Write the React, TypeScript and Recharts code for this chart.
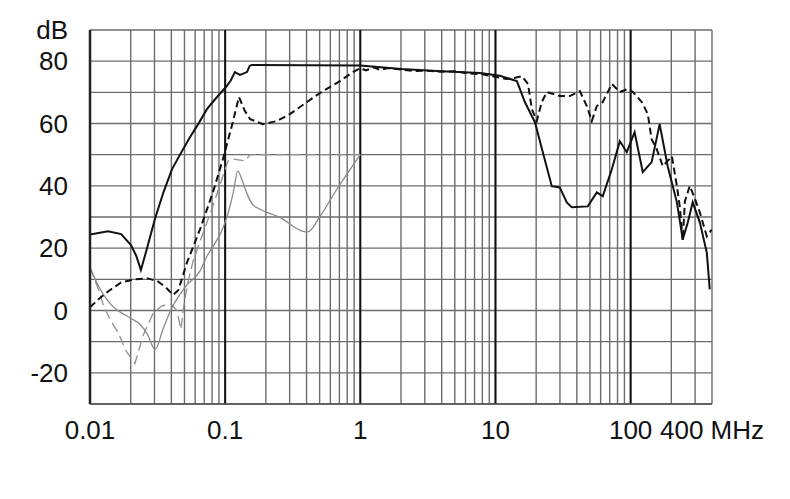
import React from 'react';
import { LineChart, Line, XAxis, YAxis, CartesianGrid, ReferenceLine } from 'recharts';

// frequency (MHz), level (dB)
const solidBlack: [number, number][] = [
  [0.01, 24.4], [0.0136, 25.4], [0.017, 24.5], [0.0201, 21], [0.022, 17.5], [0.0238, 13],
  [0.0259, 18.6], [0.0303, 29.5], [0.035, 38], [0.0404, 45.3], [0.047, 50.5], [0.0549, 55.6],
  [0.064, 60.2], [0.0733, 64.6], [0.087, 68.5], [0.1014, 71.7], [0.11, 73.8], [0.118, 76.5],
  [0.1287, 75.6], [0.145, 76.5], [0.152, 78.5], [0.158, 78.8], [1.0, 78.6], [2, 77.5],
  [4, 76.8], [7.7, 76.2], [10.8, 75.3], [14.4, 73.6], [16.5, 66.9], [19.6, 60.4], [22.4, 50.8],
  [26.1, 39.9], [29.9, 39.5], [33.7, 34.7], [36.7, 33.1], [48.2, 33.4], [56.2, 37.9],
  [62.2, 36.7], [72.6, 45.3], [83.2, 54.3], [93.7, 50.8], [107, 57.2], [123, 44.4],
  [143, 47.6], [164, 59.8], [188, 46.3], [220, 34.7], [243, 22.8], [265, 28.3], [288, 34.7],
  [325, 28.3], [366, 18.6], [385, 6.8],
];

const dashedBlack: [number, number][] = [
  [0.01, 1], [0.0115, 3.5], [0.0136, 6.1], [0.017, 9], [0.0215, 10], [0.0269, 10.3],
  [0.0318, 9.3], [0.0365, 7.4], [0.0411, 5], [0.045, 6.5], [0.0522, 15.4], [0.0651, 26],
  [0.0813, 38], [0.0963, 48.6], [0.112, 59.2], [0.1265, 68.5], [0.14, 64], [0.153, 61.4],
  [0.19, 59.8], [0.242, 60.8], [0.301, 63], [0.403, 66.9], [0.529, 70.4], [0.706, 73.6],
  [0.882, 76.5], [1.0, 77.8], [1.1, 77], [1.25, 78], [1.4, 77.2], [1.6, 77.8], [2, 77.3],
  [2.5, 76.8], [3, 77], [4, 76.6], [5, 76.8], [6, 76.2], [8, 75.8], [10, 75], [12, 74.3],
  [13.5, 74.5], [15.7, 75.2], [17.4, 72.7], [18.6, 64.6], [20.2, 60.8], [22, 66.9],
  [24, 70.1], [30, 68.8], [35.5, 68.8], [42.1, 70.4], [47.4, 65.6], [51.6, 60.8],
  [56.2, 65.6], [62.2, 66.9], [72.6, 72.7], [83.2, 70.1], [95.3, 71.1], [104, 70.1],
  [121, 66.9], [134, 63], [143, 55], [156, 51.8], [173, 46.3], [202, 49.5], [220, 39.9],
  [231, 33.4], [243, 22.5], [252, 35], [274, 40], [298, 36], [325, 31.5], [366, 23.8], [398, 26],
];

const solidGray: [number, number][] = [
  [0.01, 13.8], [0.0115, 8], [0.0136, 3], [0.0155, 0.5], [0.0175, -1], [0.02, -2.5],
  [0.0235, -4.5], [0.0265, -7.5], [0.0303, -12.5], [0.0347, -6], [0.0398, 0.3],
  [0.0504, 7.4], [0.0662, 13.2], [0.0733, 17.4], [0.0813, 20.5], [0.0931, 25], [0.103, 30],
  [0.115, 38], [0.124, 44.8], [0.133, 42], [0.145, 37.5], [0.16, 34], [0.181, 32.5],
  [0.254, 29.9], [0.376, 25.4], [0.409, 25.2], [0.503, 30.2], [0.671, 38.9], [1.0, 50],
];

const dashedGray: [number, number][] = [
  [0.01, 13.8], [0.0115, 7], [0.0125, 2], [0.0141, -3], [0.0161, -7], [0.0185, -13],
  [0.0215, -17], [0.0247, -8], [0.0292, -1], [0.034, 1.5], [0.04, 2], [0.044, 0],
  [0.047, -6], [0.05, 3], [0.053, 9], [0.058, 16], [0.065, 22], [0.081, 33.4], [0.096, 43],
  [0.105, 48], [0.115, 48.6], [0.14, 48], [0.153, 50], [1.0, 50],
];

const xTicks = [
  0.01, 0.02, 0.03, 0.04, 0.05, 0.06, 0.07, 0.08, 0.09,
  0.1, 0.2, 0.3, 0.4, 0.5, 0.6, 0.7, 0.8, 0.9,
  1, 2, 3, 4, 5, 6, 7, 8, 9,
  10, 20, 30, 40, 50, 60, 70, 80, 90,
  100, 200, 300, 400,
];
const xLabels: Record<number, string> = { 0.01: '0.01', 0.1: '0.1', 1: '1', 10: '10', 100: '100', 400: '400 MHz' };
const decades = [0.1, 1, 10, 100];

const yTicks = [-30, -20, -10, 0, 10, 20, 30, 40, 50, 60, 70, 80, 90];
const yLabels: Record<number, string> = { 90: 'dB', 80: '80', 60: '60', 40: '40', 20: '20', 0: '0', [-20]: '-20' };

const toRows = (pts: [number, number][]) => pts.map(([f, v]) => ({ f, v }));

const tickStyle = { fontFamily: 'Liberation Sans, Arial, sans-serif', fontSize: 26, fill: '#111' };

export default function App() {
  return (
    <div style={{ position: 'absolute', left: 0, top: 0, background: '#fff' }}>
      <LineChart width={790} height={499} margin={{ top: 30, right: 78, bottom: 65, left: 20 }}>
        <CartesianGrid stroke="#6c6c6c" strokeWidth={1.4} />
        <XAxis
          dataKey="f"
          type="number"
          scale="log"
          domain={[0.01, 400]}
          ticks={xTicks}
          interval={0}
          allowDataOverflow
          height={30}
          tickSize={0}
          tickMargin={17}
          tickFormatter={(v: number) => xLabels[v] ?? ''}
          tick={tickStyle}
          axisLine={{ stroke: '#555', strokeWidth: 1.5 }}
        />
        <YAxis
          type="number"
          domain={[-30, 90]}
          ticks={yTicks}
          interval={0}
          width={70}
          tickSize={0}
          tickMargin={22}
          tickFormatter={(v: number) => yLabels[v] ?? ''}
          tick={tickStyle}
          axisLine={{ stroke: '#222', strokeWidth: 2.5 }}
        />
        {decades.map((d) => (
          <ReferenceLine key={d} x={d} stroke="#111" strokeWidth={2} />
        ))}
        <Line data={toRows(dashedGray)} dataKey="v" type="linear" stroke="#909090" strokeWidth={1.3}
          strokeDasharray="10 5" dot={false} isAnimationActive={false} />
        <Line data={toRows(solidGray)} dataKey="v" type="monotone" stroke="#8a8a8a" strokeWidth={1.3}
          dot={false} isAnimationActive={false} />
        <Line data={toRows(dashedBlack)} dataKey="v" type="linear" stroke="#111" strokeWidth={2}
          strokeDasharray="7 4" dot={false} isAnimationActive={false} />
        <Line data={toRows(solidBlack)} dataKey="v" type="linear" stroke="#111" strokeWidth={2}
          dot={false} isAnimationActive={false} />
      </LineChart>
    </div>
  );
}
